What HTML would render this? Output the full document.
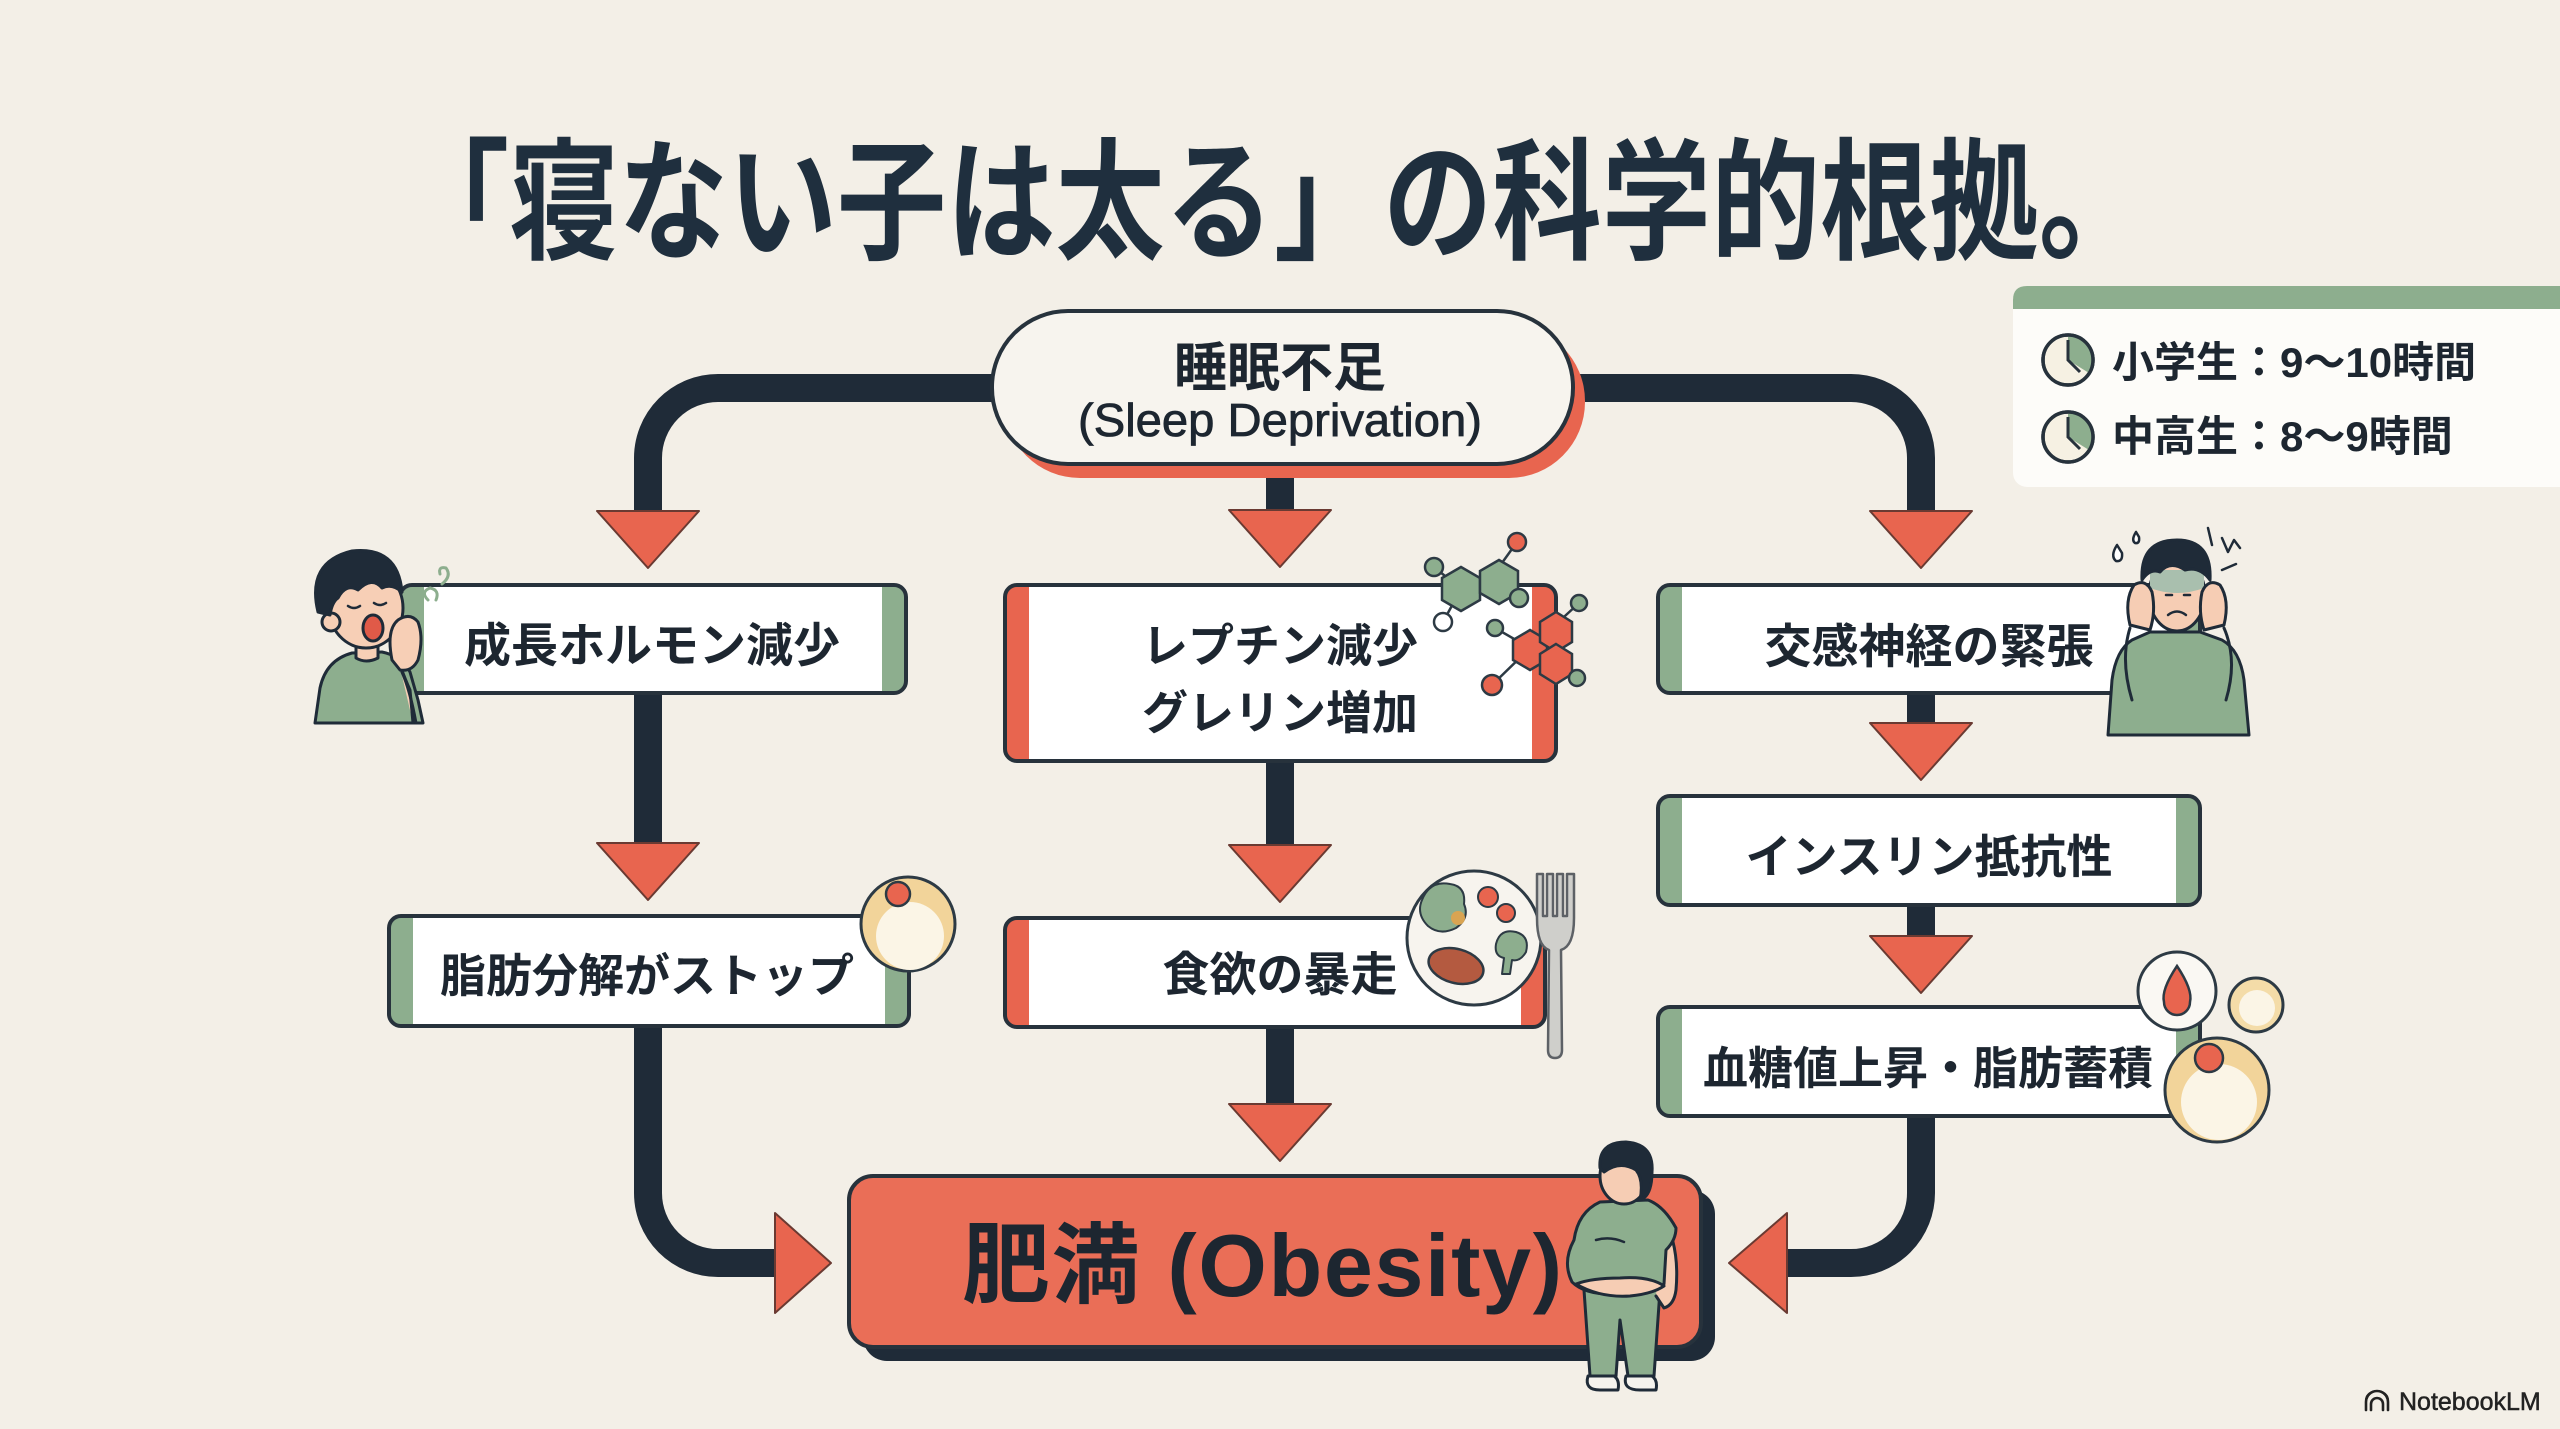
<!DOCTYPE html>
<html lang="ja">
<head>
<meta charset="utf-8">
<title>「寝ない子は太る」の科学的根拠。</title>
<style>
  html, body { margin:0; padding:0; }
  body { width:2560px; height:1429px; overflow:hidden; background:#f3efe7; }
  svg { display:block; }
  .jp { font-family: "Liberation Sans", "Noto Sans CJK JP", sans-serif; }
</style>
</head>
<body>
<svg width="2560" height="1429" viewBox="0 0 2560 1429" xmlns="http://www.w3.org/2000/svg" class="jp">
  <rect x="0" y="0" width="2560" height="1429" fill="#f3efe7"/>

  <!-- Title -->
  <text x="400" y="249" font-size="132" font-weight="700" fill="#1f2f3e" textLength="1748" lengthAdjust="spacingAndGlyphs">「寝ない子は太る」の科学的根拠。</text>

  <!-- Legend -->
  <rect x="2013" y="286" width="620" height="201" rx="14" fill="#fdfcf9"/>
  <path d="M2013 309 V300 Q2013 286 2027 286 H2560 V309 Z" fill="#8dae8e"/>
  <g stroke="#27323c" stroke-width="3.5">
    <circle cx="2068" cy="360" r="25" fill="#f6f1e3"/>
    <path d="M2068 360 L2068 335 A25 25 0 0 1 2089 373 Z" fill="#8dae8e" stroke="none"/>
    <circle cx="2068" cy="360" r="25" fill="none"/>
    <path d="M2068 340 V360 L2080 372" fill="none" stroke-width="3"/>
    <circle cx="2068" cy="437" r="25" fill="#f6f1e3"/>
    <path d="M2068 437 L2068 412 A25 25 0 0 1 2089 450 Z" fill="#8dae8e" stroke="none"/>
    <circle cx="2068" cy="437" r="25" fill="none"/>
    <path d="M2068 417 V437 L2080 449" fill="none" stroke-width="3"/>
  </g>
  <text x="2112" y="377" font-size="42" font-weight="700" fill="#1d2630">小学生：9〜10時間</text>
  <text x="2112" y="451" font-size="42" font-weight="700" fill="#1d2630">中高生：8〜9時間</text>

  <!-- Connectors -->
  <g fill="none" stroke="#1f2b38" stroke-width="28">
    <path d="M995 388 H718 A70 70 0 0 0 648 458 V520"/>
    <path d="M1570 388 H1851 A70 70 0 0 1 1921 458 V520"/>
    <path d="M1280 460 V520"/>
    <path d="M648 690 V850"/>
    <path d="M648 1022 V1193 A70 70 0 0 0 718 1263 H785"/>
    <path d="M1280 758 V852"/>
    <path d="M1280 1024 V1110"/>
    <path d="M1921 690 V730"/>
    <path d="M1921 902 V942"/>
    <path d="M1921 1113 V1193 A70 70 0 0 1 1851 1263 H1780"/>
  </g>

  <!-- Sleep deprivation pill -->
  <rect x="1004" y="325" width="581" height="153" rx="76" fill="#e8654f"/>
  <rect x="992" y="311" width="581" height="153" rx="76" fill="#f7f4ee" stroke="#27323c" stroke-width="4"/>
  <text x="1280" y="386" font-size="53" font-weight="700" fill="#1d2630" text-anchor="middle">睡眠不足</text>
  <text x="1078" y="436" font-size="46" fill="#1d2630" stroke="#1d2630" stroke-width="0.8" textLength="404" lengthAdjust="spacingAndGlyphs">(Sleep Deprivation)</text>

  <!-- Arrowheads -->
  <g fill="#e8654f" stroke="#6a3a32" stroke-width="2" stroke-linejoin="round">
    <polygon points="597,511 699,511 648,568"/>
    <polygon points="1229,510 1331,510 1280,567"/>
    <polygon points="1870,511 1972,511 1921,568"/>
    <polygon points="597,843 699,843 648,900"/>
    <polygon points="1229,845 1331,845 1280,902"/>
    <polygon points="1870,723 1972,723 1921,780"/>
    <polygon points="1870,936 1972,936 1921,993"/>
    <polygon points="1229,1104 1331,1104 1280,1161"/>
    <polygon points="775,1213 775,1313 831,1263"/>
    <polygon points="1787,1213 1787,1313 1729,1263"/>
  </g>

  <!-- Boxes -->
  <!-- Left 1 -->
  <rect x="400" y="585" width="506" height="108" rx="12" fill="#8dae8e"/>
  <rect x="424" y="585" width="458" height="108" fill="#ffffff"/>
  <rect x="400" y="585" width="506" height="108" rx="12" fill="none" stroke="#27323c" stroke-width="4"/>
  <text x="652" y="662" font-size="47" font-weight="700" fill="#1d2630" text-anchor="middle">成長ホルモン減少</text>
  <!-- Left 2 -->
  <rect x="389" y="916" width="520" height="110" rx="12" fill="#8dae8e"/>
  <rect x="413" y="916" width="472" height="110" fill="#ffffff"/>
  <rect x="389" y="916" width="520" height="110" rx="12" fill="none" stroke="#27323c" stroke-width="4"/>
  <text x="647" y="992" font-size="46" font-weight="700" fill="#1d2630" text-anchor="middle">脂肪分解がストップ</text>
  <!-- Mid 1 -->
  <rect x="1005" y="585" width="551" height="176" rx="12" fill="#e8654f"/>
  <rect x="1029" y="585" width="503" height="176" fill="#ffffff"/>
  <rect x="1005" y="585" width="551" height="176" rx="12" fill="none" stroke="#27323c" stroke-width="4"/>
  <text x="1280" y="662" font-size="46" font-weight="700" fill="#1d2630" text-anchor="middle">レプチン減少</text>
  <text x="1280" y="729" font-size="46" font-weight="700" fill="#1d2630" text-anchor="middle">グレリン増加</text>
  <!-- Mid 2 -->
  <rect x="1005" y="918" width="540" height="109" rx="12" fill="#e8654f"/>
  <rect x="1029" y="918" width="492" height="109" fill="#ffffff"/>
  <rect x="1005" y="918" width="540" height="109" rx="12" fill="none" stroke="#27323c" stroke-width="4"/>
  <text x="1280" y="991" font-size="47" font-weight="700" fill="#1d2630" text-anchor="middle">食欲の暴走</text>
  <!-- Right 1 -->
  <rect x="1658" y="585" width="542" height="108" rx="12" fill="#8dae8e"/>
  <rect x="1682" y="585" width="494" height="108" fill="#ffffff"/>
  <rect x="1658" y="585" width="542" height="108" rx="12" fill="none" stroke="#27323c" stroke-width="4"/>
  <text x="1929" y="663" font-size="47" font-weight="700" fill="#1d2630" text-anchor="middle">交感神経の緊張</text>
  <!-- Right 2 -->
  <rect x="1658" y="796" width="542" height="109" rx="12" fill="#8dae8e"/>
  <rect x="1682" y="796" width="494" height="109" fill="#ffffff"/>
  <rect x="1658" y="796" width="542" height="109" rx="12" fill="none" stroke="#27323c" stroke-width="4"/>
  <text x="1929" y="873" font-size="46" font-weight="700" fill="#1d2630" text-anchor="middle">インスリン抵抗性</text>
  <!-- Right 3 -->
  <rect x="1658" y="1007" width="542" height="109" rx="12" fill="#8dae8e"/>
  <rect x="1682" y="1007" width="494" height="109" fill="#ffffff"/>
  <rect x="1658" y="1007" width="542" height="109" rx="12" fill="none" stroke="#27323c" stroke-width="4"/>
  <text x="1928" y="1084" font-size="45" font-weight="700" fill="#1d2630" text-anchor="middle">血糖値上昇・脂肪蓄積</text>

  <!-- Obesity box -->
  <rect x="863" y="1190" width="852" height="171" rx="24" fill="#1f2b38"/>
  <rect x="849" y="1176" width="852" height="171" rx="24" fill="#ea6e57" stroke="#27323c" stroke-width="4"/>
  <text x="962" y="1296" font-size="88" font-weight="700" fill="#1d2630" textLength="600" lengthAdjust="spacing">肥満 (Obesity)</text>

  <!-- Child yawning (left) -->
  <g stroke="#1f2b38" stroke-width="3" stroke-linejoin="round" stroke-linecap="round">
    <path d="M315 723 L320 688 Q326 660 352 653 L382 652 Q402 656 410 672 L418 700 L423 723 Z" fill="#8dae8e"/>
    <path d="M356 640 L356 658 Q366 664 378 658 L378 640 Z" fill="#f7cfb6"/>
    <ellipse cx="366" cy="608" rx="37" ry="40" fill="#f7cfb6"/>
    <circle cx="331" cy="622" r="9" fill="#f7cfb6"/>
    <path d="M318 612 Q306 562 352 551 Q398 546 402 592 Q392 583 382 588 Q372 576 358 590 Q346 583 338 598 Q332 602 330 615 Z" fill="#1f2b38"/>
    <path d="M348 606 Q354 610 360 606" fill="none" stroke-width="2.5"/>
    <path d="M374 603 Q380 607 386 603" fill="none" stroke-width="2.5"/>
    <ellipse cx="373" cy="628" rx="10" ry="13" fill="#e05a48"/>
    <path d="M413 723 L410 690 Q400 668 396 650" fill="#f7cfb6"/>
    <path d="M392 660 Q386 630 398 620 Q410 612 418 622 Q424 638 418 660 Q412 672 400 670 Z" fill="#f7cfb6"/>
    <path d="M402 672 Q410 690 416 723" fill="none"/>
    <path d="M428 600 Q420 592 430 588 Q440 590 436 600" fill="none" stroke="#8dae8e" stroke-width="3"/>
    <path d="M442 584 Q452 576 446 568 Q438 566 440 574" fill="none" stroke="#8dae8e" stroke-width="3"/>
  </g>

  <!-- Stressed person (right) -->
  <g stroke="#1f2b38" stroke-width="3" stroke-linejoin="round" stroke-linecap="round">
    <path d="M2108 735 L2112 680 Q2116 650 2132 640 L2150 632 L2200 632 L2222 640 Q2240 650 2244 680 L2249 735 Z" fill="#8dae8e"/>
    <path d="M2132 700 Q2120 660 2130 628" fill="none"/>
    <path d="M2226 700 Q2238 660 2224 628" fill="none"/>
    <ellipse cx="2177" cy="595" rx="28" ry="36" fill="#f6cdb4"/>
    <path d="M2150 588 Q2177 598 2204 588 L2204 570 L2150 570 Z" fill="#a9bfae" stroke="none"/>
    <path d="M2142 580 Q2140 540 2177 540 Q2212 540 2210 580 Q2200 566 2185 570 Q2170 560 2160 572 Q2150 568 2142 580 Z" fill="#1f2b38"/>
    <path d="M2166 595 h6 M2184 595 h6" stroke-width="2.5"/>
    <path d="M2168 615 Q2177 608 2186 615" fill="none" stroke-width="2.5"/>
    <path d="M2130 625 Q2124 600 2134 585 Q2146 578 2152 592 Q2156 612 2150 630 Z" fill="#f6cdb4"/>
    <path d="M2224 625 Q2230 600 2220 585 Q2208 578 2202 592 Q2198 612 2204 630 Z" fill="#f6cdb4"/>
    <path d="M2117 545 Q2110 556 2116 561 Q2123 562 2122 553 Z" fill="#fff" stroke-width="2.5"/>
    <path d="M2136 532 Q2131 540 2135 543 Q2140 544 2139 537 Z" fill="#fff" stroke-width="2.5"/>
    <path d="M2208 528 L2212 545 M2222 538 L2228 552 L2234 540 L2240 548 M2222 570 L2236 564" fill="none" stroke-width="2.5"/>
  </g>

  <!-- Obese person -->
  <g stroke="#1f2b38" stroke-width="3" stroke-linejoin="round" stroke-linecap="round">
    <path d="M1584 1290 L1590 1376 L1616 1376 L1620 1320 L1628 1376 L1654 1376 L1660 1290 Z" fill="#8dae8e"/>
    <path d="M1588 1376 Q1584 1390 1600 1390 L1618 1390 Q1620 1380 1614 1376 Z" fill="#f5f3ee"/>
    <path d="M1626 1376 Q1622 1390 1640 1390 L1656 1390 Q1658 1380 1652 1376 Z" fill="#f5f3ee"/>
    <path d="M1662 1215 Q1680 1245 1676 1290 Q1674 1305 1664 1308 L1656 1296" fill="#f6cdb4"/>
    <path d="M1600 1202 Q1578 1212 1574 1240 Q1562 1262 1572 1282 Q1586 1296 1620 1294 Q1652 1292 1664 1284 L1666 1250 Q1676 1240 1676 1228 Q1664 1206 1648 1200 Z" fill="#8dae8e"/>
    <path d="M1576 1284 Q1600 1298 1630 1296 Q1652 1294 1664 1286 Q1650 1276 1620 1278 Q1592 1278 1576 1284 Z" fill="#f6cdb4"/>
    <path d="M1596 1240 Q1610 1236 1624 1242" fill="none" stroke-width="2.5"/>
    <ellipse cx="1624" cy="1176" rx="24" ry="28" fill="#f6cdb4"/>
    <path d="M1600 1168 Q1598 1142 1626 1142 Q1654 1144 1652 1172 Q1652 1196 1640 1200 Q1644 1180 1636 1170 Q1620 1160 1604 1172 Z" fill="#1f2b38"/>
  </g>

  <!-- Molecules -->
  <g stroke="#2d3a44" stroke-width="2.5">
    <path d="M1461 589 L1434 567 M1461 589 L1443 622 M1489 581 L1519 598 M1489 581 L1517 542 M1530 648 L1495 628 M1530 648 L1492 685 M1552 628 L1579 603 M1552 660 L1577 676" fill="none"/>
    <polygon points="1461,567 1480,578 1480,600 1461,611 1442,600 1442,578" fill="#8dae8e"/>
    <polygon points="1499,560 1518,571 1518,593 1499,604 1480,593 1480,571" fill="#8dae8e"/>
    <polygon points="1530,630 1547,640 1547,660 1530,670 1513,660 1513,640" fill="#e8654f"/>
    <polygon points="1556,612 1572,622 1572,642 1556,652 1540,642 1540,622" fill="#e8654f"/>
    <polygon points="1556,644 1572,654 1572,674 1556,684 1540,674 1540,654" fill="#e8654f"/>
    <circle cx="1434" cy="567" r="9" fill="#8dae8e"/>
    <circle cx="1443" cy="622" r="9" fill="#fff"/>
    <circle cx="1519" cy="598" r="9" fill="#8dae8e"/>
    <circle cx="1517" cy="542" r="9" fill="#e8654f"/>
    <circle cx="1495" cy="628" r="8" fill="#8dae8e"/>
    <circle cx="1492" cy="685" r="10" fill="#e8654f"/>
    <circle cx="1579" cy="603" r="8" fill="#8dae8e"/>
    <circle cx="1577" cy="678" r="8" fill="#8dae8e"/>
  </g>

  <!-- Plate and fork -->
  <g stroke="#2d3a44" stroke-width="3" stroke-linejoin="round">
    <circle cx="1474" cy="938" r="67" fill="#f7f4ee"/>
    <path d="M1422 900 Q1430 880 1450 884 Q1466 886 1464 904 Q1470 918 1456 928 Q1440 936 1428 926 Q1416 914 1422 900 Z" fill="#8dae8e" stroke-width="2"/>
    <circle cx="1458" cy="918" r="7" fill="#d9a452" stroke="none"/>
    <circle cx="1488" cy="897" r="10" fill="#e8654f" stroke-width="2"/>
    <circle cx="1506" cy="913" r="9" fill="#e8654f" stroke-width="2"/>
    <ellipse cx="1456" cy="966" rx="28" ry="17" transform="rotate(15 1456 966)" fill="#b45a40" stroke-width="2.5"/>
    <path d="M1496 944 Q1500 928 1516 932 Q1530 936 1526 952 Q1520 962 1512 960 L1510 974 L1502 974 L1504 958 Q1494 956 1496 944 Z" fill="#8dae8e" stroke-width="2"/>
    <path d="M1537 874 V918 Q1537 946 1549 950 L1548 1050 Q1548 1058 1555 1058 Q1562 1058 1562 1050 L1561 950 Q1574 946 1574 918 V874 H1567 V916 H1563 V874 H1557 V916 H1553 V874 H1547 V916 H1543 V874 Z" fill="#cfcfcb" stroke="#5d6166" stroke-width="2.5"/>
  </g>

  <!-- Fat cells -->
  <g stroke="#2d3a44" stroke-width="3">
    <circle cx="908" cy="924" r="47" fill="#f2d49a"/>
    <circle cx="910" cy="936" r="34" fill="#fbf5e6" stroke="none"/>
    <circle cx="898" cy="894" r="12" fill="#e8654f" stroke-width="2.5"/>

    <circle cx="2177" cy="991" r="39" fill="#faf8f3"/>
    <path d="M2177 966 Q2193 990 2190 1002 A13 13 0 0 1 2164 1002 Q2161 990 2177 966 Z" fill="#e8654f" stroke-width="2.5"/>
    <circle cx="2256" cy="1005" r="27" fill="#f4dca8"/>
    <circle cx="2257" cy="1008" r="18" fill="#fbf5e6" stroke="none"/>
    <circle cx="2217" cy="1090" r="52" fill="#f2d49a"/>
    <circle cx="2219" cy="1102" r="38" fill="#fbf5e6" stroke="none"/>
    <circle cx="2209" cy="1058" r="14" fill="#e8654f" stroke-width="2.5"/>
  </g>

  <!-- NotebookLM watermark -->
  <g fill="none" stroke="#222" stroke-width="2.6" stroke-linecap="round">
    <path d="M2366 1410 V1402 A11 11 0 0 1 2388 1402 V1410"/>
    <path d="M2371 1410 V1404 A6 6 0 0 1 2383 1404 V1410"/>
    <path d="M2366 1400 A11 9 0 0 1 2388 1400" stroke-width="2"/>
  </g>
  <text x="2399" y="1410" font-size="25" fill="#222" stroke="#222" stroke-width="0.5" font-family="Liberation Sans, sans-serif">NotebookLM</text>
</svg>
</body>
</html>
